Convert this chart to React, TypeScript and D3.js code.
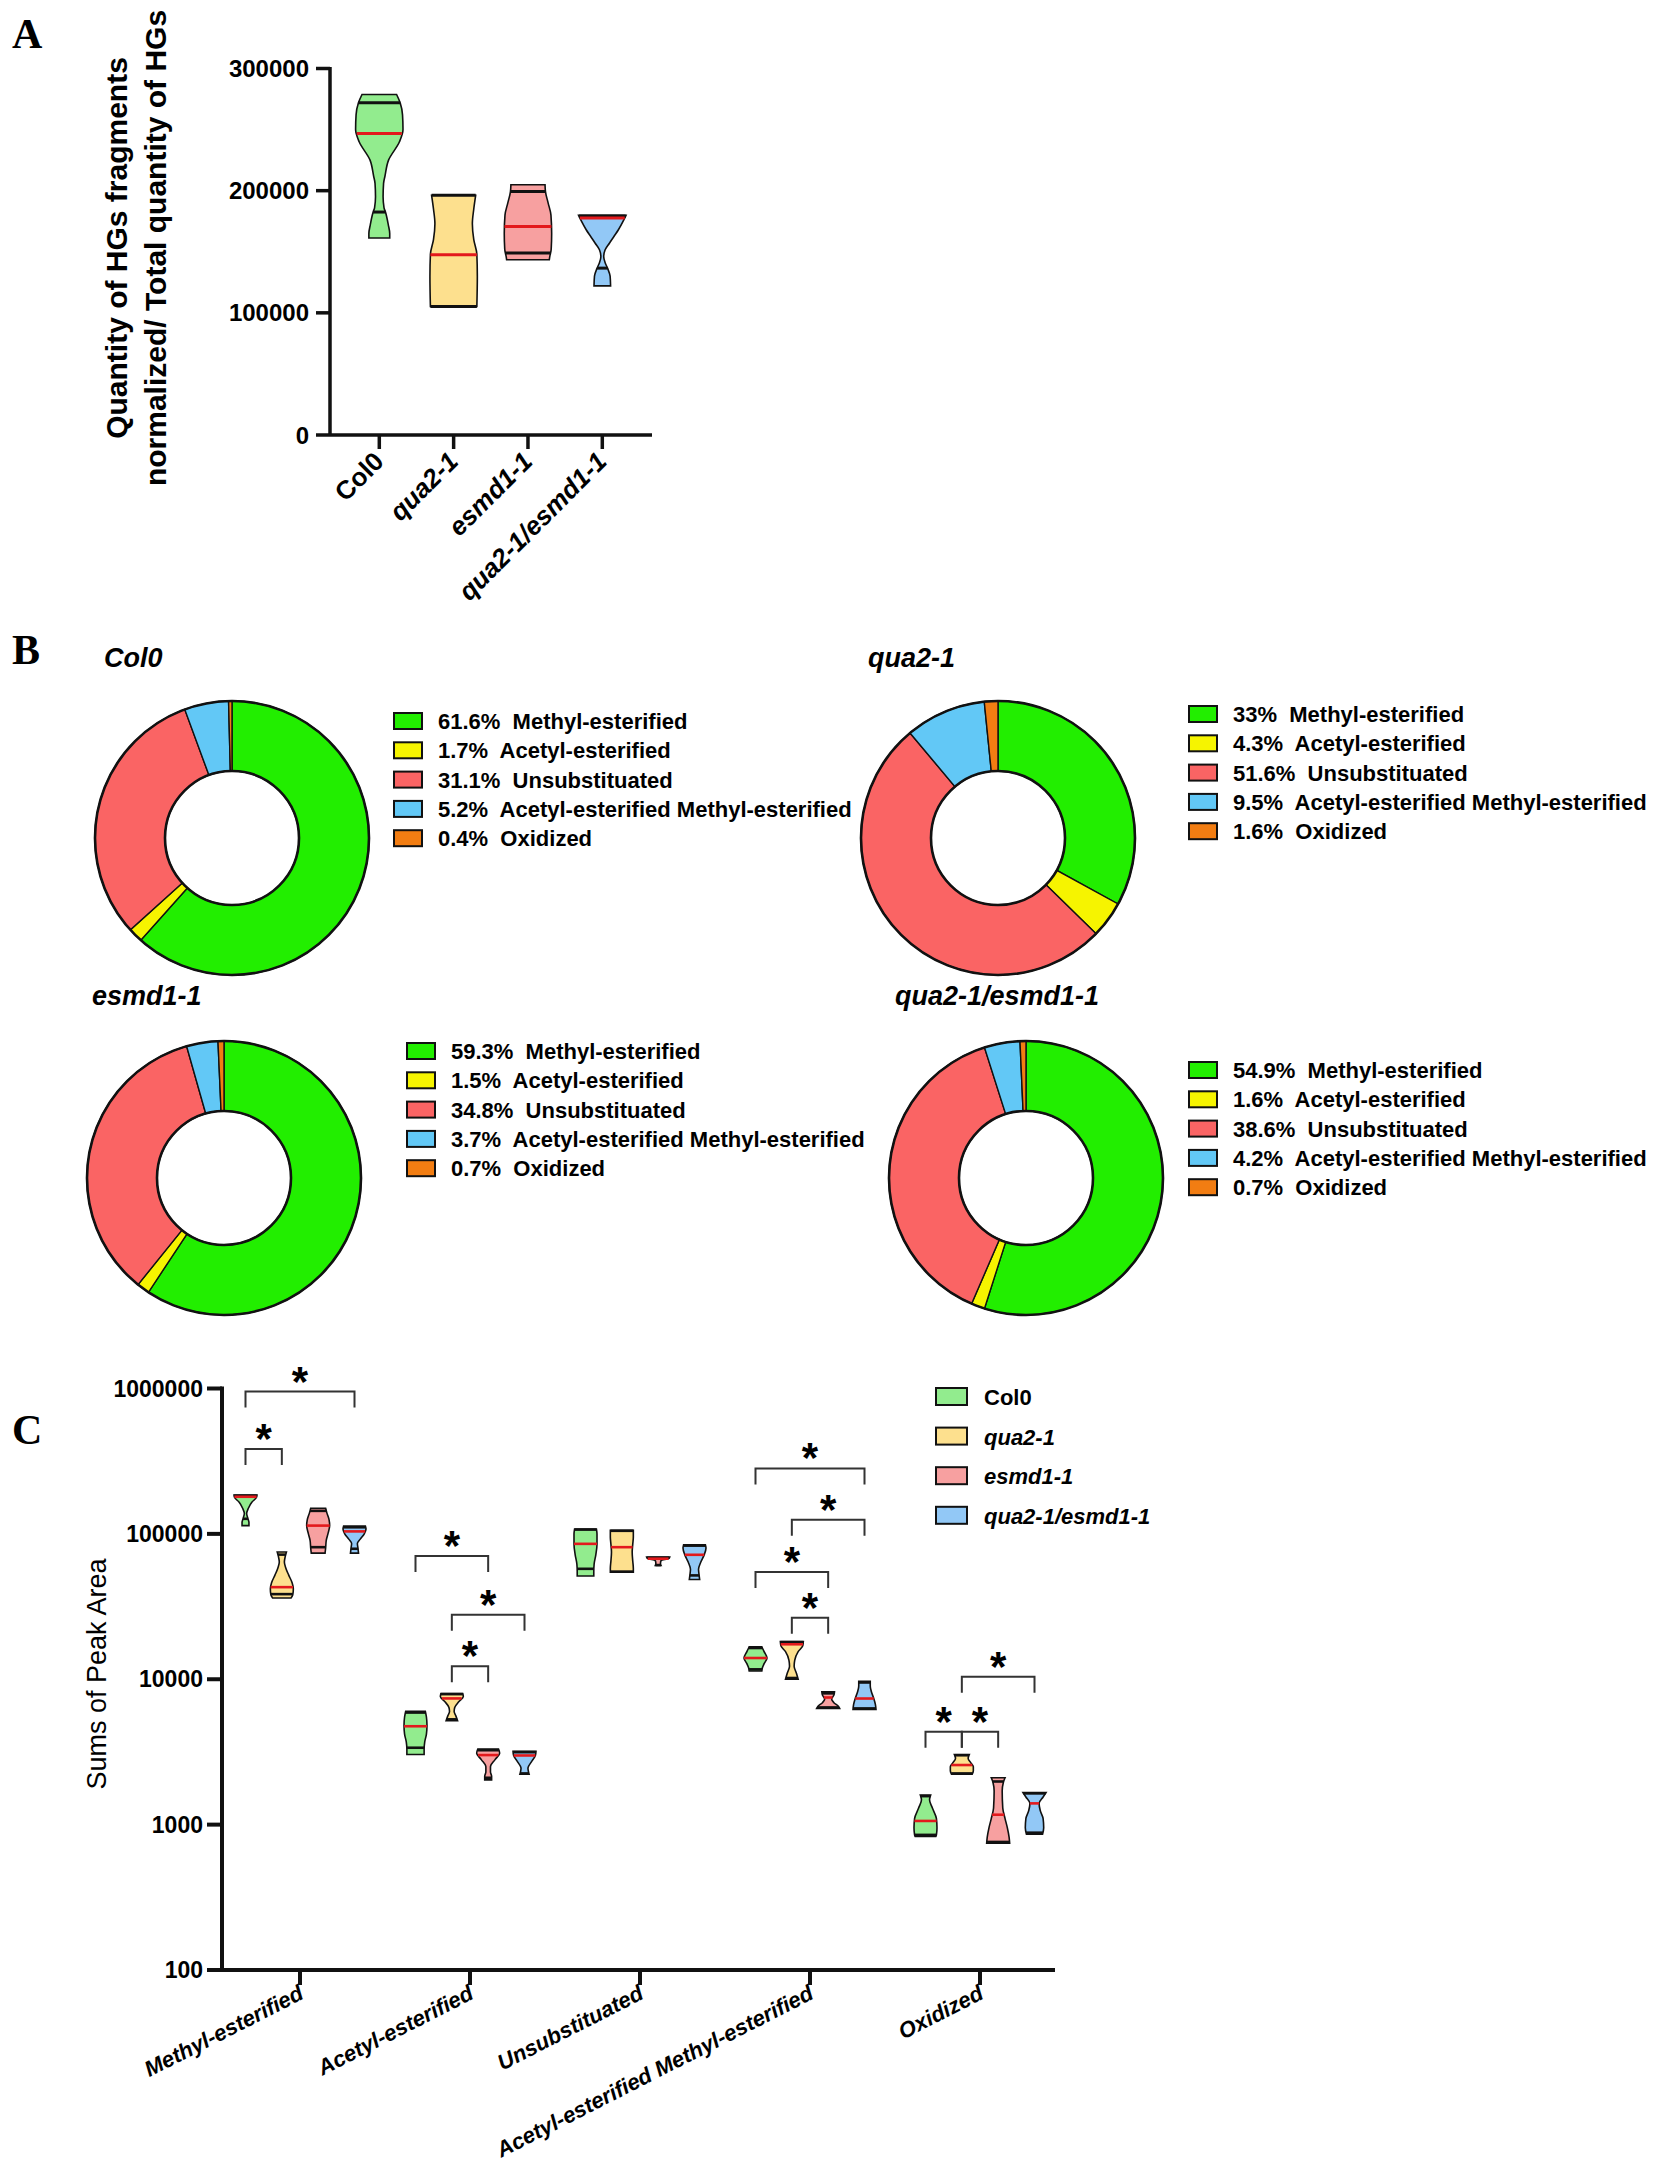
import * as d3 from 'd3';

const SANS = "'Liberation Sans', Arial, sans-serif";
const SERIF = "'Liberation Serif', 'Times New Roman', serif";

// ---------- shared ----------
const genotypes = ['Col0', 'qua2-1', 'esmd1-1', 'qua2-1/esmd1-1'];
const genoFill = ['#92ec8e', '#fde08e', '#f7a0a0', '#92c8f6'];

// ---------- panel A : [value, relative half width] ----------
const col0ShapeA: [number, number][] = [
  [278700, 0.73], [272000, 0.88], [262000, 0.98], [250000, 1.0], [240000, 0.85], [225000, 0.39],
  [212000, 0.24], [206000, 0.18], [195000, 0.16], [186000, 0.2], [182500, 0.26], [172000, 0.38],
  [165000, 0.44], [161200, 0.44],
];
const qua2ShapeA: [number, number][] = [
  [196200, 0.93], [185000, 0.85], [173000, 0.79], [160000, 0.85], [148000, 0.98], [130000, 1.0], [105200, 0.98],
];
const esmdShapeA: [number, number][] = [
  [204900, 0.72], [199000, 0.74], [190000, 0.85], [180000, 0.97], [165000, 1.0], [152000, 0.98],
  [146000, 0.92], [143400, 0.9],
];
const dkoShapeA: [number, number][] = [
  [179800, 1.0], [175000, 0.88], [168000, 0.68], [162500, 0.49], [157000, 0.3], [151600, 0.12],
  [146000, 0.06], [141000, 0.12], [136600, 0.22], [130000, 0.33], [122100, 0.35],
];
const shapesA = [col0ShapeA, qua2ShapeA, esmdShapeA, dkoShapeA];
const mediansA = [246700, 147500, 170700, 177600];
const quartilesA = [[182500, 271900], [105200, 196200], [148900, 199400], [136600, 179300]];
const ticksA = [0, 100000, 200000, 300000];

// ---------- panel B ----------
const compartments = ['Methyl-esterified', 'Acetyl-esterified', 'Unsubstituated', 'Acetyl-esterified Methyl-esterified', 'Oxidized'];
const sliceFill = ['#22ee00', '#f6f400', '#fa6464', '#62c8f6', '#f27d12'];
const col0Pct = [61.6, 1.7, 31.1, 5.2, 0.4];
const qua2Pct = [33, 4.3, 51.6, 9.5, 1.6];
const esmdPct = [59.3, 1.5, 34.8, 3.7, 0.7];
const dkoPct = [54.9, 1.6, 38.6, 4.2, 0.7];

// ---------- panel C ----------
const categoriesC = ['Methyl-esterified', 'Acetyl-esterified', 'Unsubstituated', 'Acetyl-esterified Methyl-esterified', 'Oxidized'];
const ticksC = [100, 1000, 10000, 100000, 1000000];

const methylShapes: [number, number][][] = [
  [[185000, 1.0], [178000, 0.95], [165000, 0.55], [150000, 0.25], [138000, 0.1], [128000, 0.2], [120000, 0.3], [114000, 0.3]],
  [[75000, 0.4], [70000, 0.3], [64000, 0.22], [58000, 0.35], [52000, 0.6], [46000, 0.9], [42000, 1.0], [38000, 0.95], [36200, 0.8]],
  [[150000, 0.65], [140000, 0.75], [125000, 0.95], [114000, 1.0], [100000, 0.85], [90000, 0.7], [80000, 0.65], [73700, 0.6]],
  [[113000, 0.95], [108000, 1.0], [100000, 0.85], [92000, 0.5], [86000, 0.25], [80000, 0.3], [73700, 0.35]],
];
const acetylShapes: [number, number][][] = [
  [[6030, 0.85], [5500, 0.95], [4800, 1.0], [4200, 0.95], [3700, 0.8], [3300, 0.75], [3040, 0.75]],
  [[7980, 0.95], [7600, 1.0], [7000, 0.6], [6400, 0.25], [6000, 0.2], [5600, 0.35], [5180, 0.5]],
  [[3310, 0.9], [3100, 1.0], [2800, 0.6], [2500, 0.2], [2300, 0.2], [2150, 0.3], [2030, 0.3]],
  [[3200, 1.0], [3000, 0.95], [2700, 0.6], [2450, 0.3], [2300, 0.35], [2220, 0.4]],
];
const unsubShapes: [number, number][][] = [
  [[108000, 0.95], [100000, 1.0], [85000, 1.0], [72000, 0.9], [62000, 0.75], [55000, 0.72], [51300, 0.72]],
  [[106000, 1.0], [95000, 1.0], [85000, 0.95], [75000, 0.9], [65000, 0.95], [58000, 1.0], [54600, 1.0]],
  [[69200, 1.0], [67500, 0.9], [65500, 0.25], [62500, 0.2], [60600, 0.25]],
  [[84000, 0.95], [80000, 1.0], [72000, 0.85], [64000, 0.55], [57000, 0.35], [52000, 0.4], [48600, 0.45]],
];
const acmeShapes: [number, number][][] = [
  [[16700, 0.55], [15500, 0.75], [14000, 1.0], [12800, 0.75], [12000, 0.6], [11400, 0.55]],
  [[18200, 1.0], [17000, 0.95], [15500, 0.55], [13500, 0.25], [12300, 0.2], [11000, 0.4], [10000, 0.55]],
  [[8190, 0.55], [7800, 0.5], [7300, 0.3], [6900, 0.5], [6500, 0.9], [6300, 1.0]],
  [[9690, 0.5], [9000, 0.5], [8200, 0.6], [7400, 0.8], [6700, 0.95], [6190, 1.0]],
];
const oxidizedShapes: [number, number][][] = [
  [[1600, 0.45], [1480, 0.35], [1300, 0.6], [1100, 0.95], [950, 1.0], [850, 0.95], [828, 0.9]],
  [[3040, 0.65], [2850, 0.55], [2650, 0.8], [2500, 1.0], [2350, 1.0], [2220, 0.9]],
  [[2100, 0.6], [1950, 0.45], [1700, 0.35], [1300, 0.4], [1100, 0.6], [950, 0.8], [820, 0.95], [745, 1.0]],
  [[1660, 1.0], [1550, 0.75], [1400, 0.4], [1250, 0.5], [1100, 0.75], [950, 0.8], [859, 0.7]],
];
const shapesC = [methylShapes, acetylShapes, unsubShapes, acmeShapes, oxidizedShapes];

const methylMedians = [180000, 43000, 114000, 104000];
const acetylMedians = [4750, 7380, 3010, 2990];
const unsubMedians = [85400, 81000, 67500, 71800];
const acmeMedians = [14000, 17400, 7490, 7370];
const oxidizedMedians = [1060, 2570, 1170, 1400];
const mediansC = [methylMedians, acetylMedians, unsubMedians, acmeMedians, oxidizedMedians];

const methylQuartiles = [[127000, 183000], [38500, 72000], [81000, 144000], [79000, 111000]];
const acetylQuartiles = [[3380, 5900], [5300, 7900], [2100, 3250], [2250, 3150]];
const unsubQuartiles = [[57500, 107000], [55000, 105000], [61000, 68500], [51800, 83000]];
const acmeQuartiles = [[11700, 16400], [10200, 18000], [6400, 8000], [6300, 9500]];
const oxidizedQuartiles = [[850, 1570], [2250, 3000], [760, 1980], [880, 1640]];
const quartilesC = [methylQuartiles, acetylQuartiles, unsubQuartiles, acmeQuartiles, oxidizedQuartiles];

// significance brackets: [category, genotype a, genotype b, height value]
const brackets: [number, number, number, number][] = [
  [0, 0, 3, 953000], [0, 0, 1, 383000],
  [1, 0, 2, 70300], [1, 1, 3, 27800], [1, 1, 2, 12300],
  [3, 0, 3, 282000], [3, 1, 3, 125000], [3, 0, 2, 54600], [3, 1, 2, 26500],
  [4, 1, 3, 10400], [4, 0, 1, 4350], [4, 1, 2, 4350],
];

type Shape = [number, number][];

function Violin({ cx, half, shape, median, quart, y, fill, lw }: {
  cx: number; half: number; shape: Shape; median: number; quart: number[];
  y: (v: number) => number; fill: string; lw: number;
}) {
  const area = d3.area<[number, number]>()
    .y(d => y(d[0]))
    .x0(d => cx - d[1] * half)
    .x1(d => cx + d[1] * half)
    .curve(d3.curveMonotoneY);
  const widthAt = d3.scaleLinear().domain(shape.map(d => d[0])).range(shape.map(d => d[1])).clamp(true);
  const seg = (v: number) => {
    const w = widthAt(v) * half;
    return { x1: cx - w, x2: cx + w, y1: y(v), y2: y(v) };
  };
  return (
    <g>
      <path d={area(shape) ?? ''} fill={fill} stroke="#111" strokeWidth={1.6} />
      {quart.map((q, i) => <line key={i} {...seg(q)} stroke="#111" strokeWidth={lw} />)}
      <line {...seg(median)} stroke="#e3191c" strokeWidth={lw} />
    </g>
  );
}

function Donut({ cx, cy, title, tx, ty, pct, lx, ly }: {
  cx: number; cy: number; title: string; tx: number; ty: number; pct: number[]; lx: number; ly: number;
}) {
  const pie = d3.pie<number>().sort(null).value(d => d);
  const arc = d3.arc<d3.PieArcDatum<number>>().innerRadius(67).outerRadius(137);
  return (
    <g>
      <text x={tx} y={ty} fontFamily={SANS} fontWeight="bold" fontStyle="italic" fontSize={27}>{title}</text>
      <g transform={`translate(${cx},${cy})`}>
        {pie(pct).map((s, i) => (
          <path key={i} d={arc(s) ?? ''} fill={sliceFill[i]} stroke="#111" strokeWidth={1.4} />
        ))}
        <circle r={137} fill="none" stroke="#111" strokeWidth={2.6} />
        <circle r={67} fill="none" stroke="#111" strokeWidth={2.6} />
      </g>
      {pct.map((p, i) => (
        <g key={i} transform={`translate(${lx},${ly + i * 29.3})`}>
          <rect x={0} y={0} width={28} height={16} fill={sliceFill[i]} stroke="#111" strokeWidth={2} />
          <text x={44} y={16} fontFamily={SANS} fontWeight="bold" fontSize={22} style={{ whiteSpace: 'pre' }}>
            {`${p}%  ${compartments[i]}`}
          </text>
        </g>
      ))}
    </g>
  );
}

export default function App() {
  // ----- panel A scales -----
  const yA = d3.scaleLinear().domain([0, 300000]).range([435, 68.5]);
  const xA = d3.scalePoint<string>().domain(genotypes).range([379.3, 602.3]);
  const axA = 330;

  // ----- panel C scales -----
  const yC = d3.scaleLog().domain([100, 1000000]).range([1970, 1388.5]);
  const xC = d3.scaleBand<string>().domain(categoriesC).range([215, 1065]);
  const subC = d3.scalePoint<number>().domain([0, 1, 2, 3]).range([-54.5, 54.5]);
  const vx = (c: number, g: number) => (xC(categoriesC[c]) ?? 0) + xC.bandwidth() / 2 + (subC(g) ?? 0);
  const axC = 222;

  return (
    <svg width={1654} height={2168} viewBox="0 0 1654 2168"
      style={{ position: 'absolute', left: 0, top: 0, background: '#fff' }}>
      <rect width={1654} height={2168} fill="#fff" />

      {/* ================= A ================= */}
      <text x={12} y={48} fontFamily={SERIF} fontWeight="bold" fontSize={42}>A</text>
      <g fontFamily={SANS} fontWeight="bold" fontSize={30} textAnchor="middle">
        <text transform="translate(127,248) rotate(-90)">Quantity of HGs fragments</text>
        <text transform="translate(166,248) rotate(-90)">normalized/ Total quantity of HGs</text>
      </g>
      <line x1={axA} x2={axA} y1={yA(300000) - 1.5} y2={yA(0)} stroke="#111" strokeWidth={3.5} />
      <line x1={axA} x2={652} y1={yA(0)} y2={yA(0)} stroke="#111" strokeWidth={3.5} />
      {ticksA.map(t => (
        <g key={t}>
          <line x1={axA - 14} x2={axA} y1={yA(t)} y2={yA(t)} stroke="#111" strokeWidth={3.5} />
          <text x={axA - 21} y={yA(t) + 8.5} textAnchor="end" fontFamily={SANS} fontWeight="bold" fontSize={24}>{t}</text>
        </g>
      ))}
      {genotypes.map((g, i) => (
        <g key={g}>
          <line x1={xA(g)} x2={xA(g)} y1={yA(0)} y2={yA(0) + 14} stroke="#111" strokeWidth={3.5} />
          <text transform={`translate(${(xA(g) ?? 0) + 6},${yA(0) + 28}) rotate(-45)`} textAnchor="end"
            fontFamily={SANS} fontWeight="bold" fontStyle={i === 0 ? 'normal' : 'italic'} fontSize={26}>{g}</text>
          <Violin cx={xA(g) ?? 0} half={23.7} shape={shapesA[i]} median={mediansA[i]} quart={quartilesA[i]}
            y={yA} fill={genoFill[i]} lw={3} />
        </g>
      ))}

      {/* ================= B ================= */}
      <text x={12} y={664} fontFamily={SERIF} fontWeight="bold" fontSize={42}>B</text>
      <Donut cx={232} cy={838} title="Col0" tx={104} ty={667} pct={col0Pct} lx={394} ly={713} />
      <Donut cx={998} cy={838} title="qua2-1" tx={868} ty={667} pct={qua2Pct} lx={1189} ly={706} />
      <Donut cx={224} cy={1178} title="esmd1-1" tx={92} ty={1005} pct={esmdPct} lx={407} ly={1043} />
      <Donut cx={1026} cy={1178} title="qua2-1/esmd1-1" tx={895} ty={1005} pct={dkoPct} lx={1189} ly={1062} />

      {/* ================= C ================= */}
      <text x={12} y={1444} fontFamily={SERIF} fontWeight="bold" fontSize={42}>C</text>
      <text transform="translate(106,1674) rotate(-90)" textAnchor="middle" fontFamily={SANS} fontSize={27}>Sums of Peak Area</text>
      <line x1={axC} x2={axC} y1={yC(1000000) - 2} y2={yC(100)} stroke="#111" strokeWidth={4} />
      <line x1={axC} x2={1055} y1={yC(100)} y2={yC(100)} stroke="#111" strokeWidth={4} />
      {ticksC.map(t => (
        <g key={t}>
          <line x1={axC - 15} x2={axC} y1={yC(t)} y2={yC(t)} stroke="#111" strokeWidth={4} />
          <text x={axC - 19} y={yC(t) + 8} textAnchor="end" fontFamily={SANS} fontWeight="bold" fontSize={23}>{t}</text>
        </g>
      ))}
      {categoriesC.map((c, ci) => {
        const cx = (xC(c) ?? 0) + xC.bandwidth() / 2;
        return (
          <g key={c}>
            <line x1={cx} x2={cx} y1={yC(100)} y2={yC(100) + 15} stroke="#111" strokeWidth={4} />
            <text transform={`translate(${cx + 5},${yC(100) + 28}) rotate(-27)`} textAnchor="end"
              fontFamily={SANS} fontWeight="bold" fontStyle="italic" fontSize={22}>{c}</text>
            {genotypes.map((g, gi) => (
              <Violin key={g} cx={vx(ci, gi)} half={11.5} shape={shapesC[ci][gi]} median={mediansC[ci][gi]}
                quart={quartilesC[ci][gi]} y={yC} fill={genoFill[gi]} lw={2.6} />
            ))}
          </g>
        );
      })}
      {brackets.map(([c, a, b, v], i) => {
        const x1 = vx(c, a), x2 = vx(c, b), yy = yC(v);
        return (
          <g key={i}>
            <path d={`M${x1},${yy + 16}V${yy}H${x2}V${yy + 16}`} fill="none" stroke="#333" strokeWidth={2} />
            <text x={(x1 + x2) / 2} y={yy + 4} textAnchor="middle" fontFamily={SANS} fontWeight="bold" fontSize={42}>*</text>
          </g>
        );
      })}
      {genotypes.map((g, i) => (
        <g key={g} transform={`translate(936,${1388 + i * 39.6})`}>
          <rect width={31} height={17} fill={genoFill[i]} stroke="#111" strokeWidth={2} />
          <text x={48} y={17} fontFamily={SANS} fontWeight="bold" fontStyle={i === 0 ? 'normal' : 'italic'} fontSize={22}>{g}</text>
        </g>
      ))}
    </svg>
  );
}
